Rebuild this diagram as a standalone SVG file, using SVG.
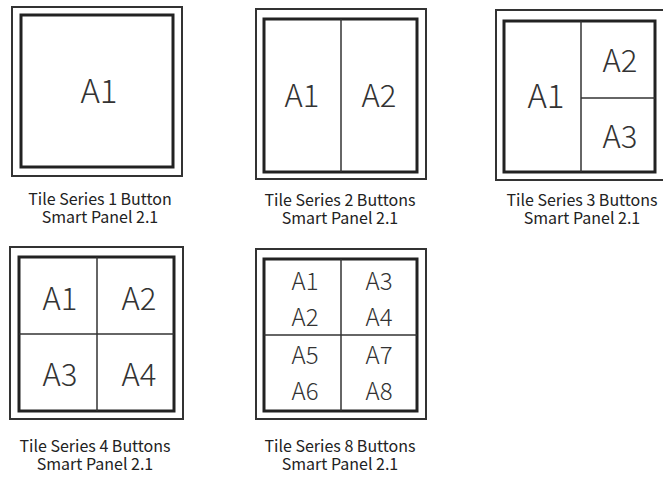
<svg xmlns="http://www.w3.org/2000/svg" width="663" height="479" viewBox="0 0 663 479">
<style>
.outer{fill:none;stroke:#333;stroke-width:2}
.inner{fill:#fff;stroke:#222;stroke-width:3}
.div{stroke:#333;stroke-width:1.5}
.lbl{font-family:"Noto Sans CJK SC","Noto Sans",sans-serif;font-weight:300;fill:#333;text-anchor:middle}
.big{font-size:33px}
.mid{font-size:31px}
.sm{font-size:24px}
.cap{font-family:"Noto Sans CJK SC","Noto Sans",sans-serif;fill:#222;font-size:16px;text-anchor:middle}
</style>
<rect width="663" height="479" fill="#fff"/>
<g id="panel1">
<rect class="outer" x="12" y="7" width="170" height="169"/>
<rect class="inner" x="21" y="15" width="152" height="152"/>
<text class="lbl big" x="99" y="103">A1</text>
<text class="cap" x="100" y="205">Tile Series 1 Button</text>
<text class="cap" x="100" y="223">Smart Panel 2.1</text>
</g>
<g id="panel2">
<rect class="outer" x="256" y="9" width="170" height="170"/>
<rect class="inner" x="264" y="19" width="153" height="153"/>
<line class="div" x1="341" y1="19" x2="341" y2="172"/>
<text class="lbl mid" x="302" y="107">A1</text>
<text class="lbl mid" x="379" y="107">A2</text>
<text class="cap" x="340" y="206">Tile Series 2 Buttons</text>
<text class="cap" x="340" y="224">Smart Panel 2.1</text>
</g>
<g id="panel3">
<rect class="outer" x="496" y="10" width="170" height="170"/>
<rect class="inner" x="504" y="21" width="151" height="151"/>
<line class="div" x1="581" y1="21" x2="581" y2="172"/>
<line class="div" x1="581" y1="98" x2="655" y2="98"/>
<text class="lbl big" x="546" y="108">A1</text>
<text class="lbl mid" x="620" y="72">A2</text>
<text class="lbl mid" x="620" y="148">A3</text>
<text class="cap" x="582" y="206">Tile Series 3 Buttons</text>
<text class="cap" x="582" y="224">Smart Panel 2.1</text>
</g>
<g id="panel4">
<rect class="outer" x="10" y="247" width="173" height="172"/>
<rect class="inner" x="19" y="257" width="155" height="154"/>
<line class="div" x1="97" y1="257" x2="97" y2="411"/>
<line class="div" x1="19" y1="334" x2="174" y2="334"/>
<text class="lbl mid" x="60" y="310">A1</text>
<text class="lbl mid" x="139" y="310">A2</text>
<text class="lbl mid" x="60" y="386">A3</text>
<text class="lbl mid" x="139" y="386">A4</text>
<text class="cap" x="95" y="452">Tile Series 4 Buttons</text>
<text class="cap" x="95" y="470">Smart Panel 2.1</text>
</g>
<g id="panel5">
<rect class="outer" x="256" y="249" width="170" height="170"/>
<rect class="inner" x="264" y="259" width="153" height="152"/>
<line class="div" x1="341" y1="259" x2="341" y2="411"/>
<line class="div" x1="264" y1="335" x2="417" y2="335"/>
<text class="lbl sm" x="305" y="290">A1</text>
<text class="lbl sm" x="305" y="326">A2</text>
<text class="lbl sm" x="305" y="364">A5</text>
<text class="lbl sm" x="305" y="400">A6</text>
<text class="lbl sm" x="379" y="290">A3</text>
<text class="lbl sm" x="379" y="326">A4</text>
<text class="lbl sm" x="379" y="364">A7</text>
<text class="lbl sm" x="379" y="400">A8</text>
<text class="cap" x="340" y="452">Tile Series 8  Buttons</text>
<text class="cap" x="340" y="470">Smart Panel 2.1</text>
</g>
<g id="connectors"></g>
</svg>
